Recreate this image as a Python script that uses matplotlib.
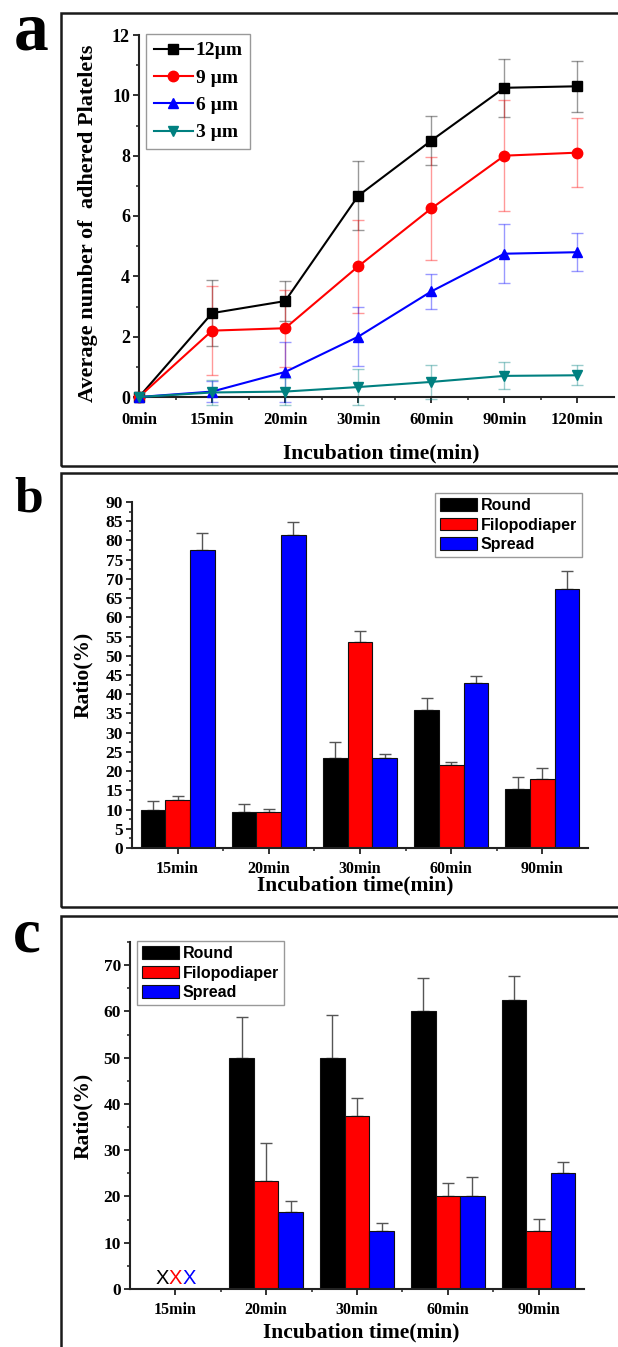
import matplotlib
matplotlib.use("Agg")
import matplotlib.pyplot as plt
from matplotlib.patches import Rectangle
from matplotlib.ticker import MultipleLocator, FixedLocator
import numpy as np

# ---------------- data ----------------
# panel a
times_a = ["0min", "15min", "20min", "30min", "60min", "90min", "120min"]
series_a = ["12\u00b5m", "9 \u00b5m", "6 \u00b5m", "3 \u00b5m"]
vals_12 = [0, 2.78, 3.18, 6.67, 8.50, 10.25, 10.30]
err_12 = [0, 1.10, 0.65, 1.15, 0.82, 0.97, 0.85]
vals_9 = [0, 2.20, 2.28, 4.33, 6.25, 8.00, 8.10]
err_9 = [0, 1.48, 1.27, 1.55, 1.72, 1.85, 1.15]
vals_6 = [0, 0.18, 0.83, 2.00, 3.50, 4.75, 4.80]
err_6 = [0, 0.35, 1.00, 0.98, 0.58, 0.97, 0.63]
vals_3 = [0, 0.15, 0.18, 0.33, 0.50, 0.70, 0.72]
err_3 = [0, 0.42, 0.45, 0.60, 0.57, 0.45, 0.33]

# panel b
times_b = ["15min", "20min", "30min", "60min", "90min"]
shapes = ["Round", "Filopodiaper", "Spread"]
b_round = [10.0, 9.3, 23.5, 35.8, 15.3]
b_round_err = [2.3, 2.1, 4.2, 3.2, 3.2]
b_filo = [12.5, 9.3, 53.5, 21.5, 18.0]
b_filo_err = [1.0, 0.9, 3.0, 1.0, 2.8]
b_spread = [77.5, 81.5, 23.5, 43.0, 67.5]
b_spread_err = [4.5, 3.2, 1.0, 1.7, 4.5]

# panel c (15min: no data, marked with X)
times_c = ["15min", "20min", "30min", "60min", "90min"]
c_round = [0, 50.0, 50.0, 60.0, 62.5]
c_round_err = [0, 8.7, 9.3, 7.2, 5.2]
c_filo = [0, 23.3, 37.5, 20.0, 12.5]
c_filo_err = [0, 8.3, 3.8, 3.0, 2.7]
c_spread = [0, 16.7, 12.5, 20.0, 25.0]
c_spread_err = [0, 2.3, 1.7, 4.1, 2.5]

# ---------------- layout ----------------
W, H = 618, 1347
fig = plt.figure(figsize=(W / 100, H / 100), dpi=100)
fig.patch.set_facecolor("white")

SERIF = "Liberation Serif"
SANS = "Liberation Sans"


def rect(l, r, top, bottom):
    return [l / W, 1 - bottom / H, (r - l) / W, (bottom - top) / H]


def frame(top, bottom, left=61, right=660):
    fig.patches.append(Rectangle((left / W, 1 - bottom / H), (right - left) / W,
                                 (bottom - top) / H, transform=fig.transFigure,
                                 fill=False, edgecolor="#1a1a1a", linewidth=1.8,
                                 clip_on=False))


frame(13, 466)
frame(473, 907)
frame(916, 1360)

fig.text(14 / W, 1 - 50 / H, "a", fontfamily=SERIF, fontweight="bold",
         fontsize=50, ha="left", va="baseline")
fig.text(14 / W, 1 - 511 / H, "b", fontfamily=SERIF, fontweight="bold",
         fontsize=37, ha="left", va="baseline")
fig.text(13 / W, 1 - 952 / H, "c", fontfamily=SERIF, fontweight="bold",
         fontsize=45, ha="left", va="baseline")


def style_axes(ax, xsize, ysize):
    for s in ["top", "right"]:
        ax.spines[s].set_visible(False)
    for s in ["left", "bottom"]:
        ax.spines[s].set_linewidth(1.5)
        ax.spines[s].set_color("#222222")
    ax.tick_params(which="major", direction="out", length=4.5, width=1.3,
                   colors="#222222", labelcolor="black", pad=2)
    ax.tick_params(which="minor", direction="out", length=2.5, width=1.1,
                   colors="#222222")
    ax.tick_params(axis="x", labelsize=xsize)
    ax.tick_params(axis="y", labelsize=ysize)
    for lab in ax.get_xticklabels() + ax.get_yticklabels():
        lab.set_fontfamily(SERIF)
        lab.set_fontweight("bold")


def center_labels(ax, xcoord, ycoord):
    ax.xaxis.label.set_va("center")
    ax.yaxis.label.set_va("center")
    ax.xaxis.set_label_coords(*xcoord)
    ax.yaxis.set_label_coords(*ycoord)


# ---------------- panel a ----------------
axa = fig.add_axes(rect(139, 614, 35, 397))
xa = np.arange(len(times_a))
cols_a = ["#000000", "#ff0000", "#0000ff", "#008080"]
marks_a = ["s", "o", "^", "v"]
data_a = [(vals_12, err_12), (vals_9, err_9), (vals_6, err_6), (vals_3, err_3)]
for (v, e), c, m, lab in zip(data_a, cols_a, marks_a, series_a):
    axa.errorbar(xa, v, yerr=e, fmt="none", ecolor=c, alpha=0.4,
                 elinewidth=1.0, capsize=4, capthick=1.0, clip_on=False)
    axa.plot(xa, v, color=c, marker=m, markersize=7.5, linewidth=1.5,
             label=lab, clip_on=False, zorder=3)
axa.set_xlim(0, 6.5)
axa.set_ylim(0, 12)
axa.xaxis.set_major_locator(FixedLocator(xa))
axa.xaxis.set_minor_locator(FixedLocator(xa[:-1] + 0.5))
axa.set_xticklabels(times_a)
axa.yaxis.set_major_locator(MultipleLocator(2))
axa.yaxis.set_minor_locator(MultipleLocator(1))
style_axes(axa, 12, 13)
axa.tick_params(axis="x", pad=6)
axa.set_xlabel("Incubation time(min)", fontfamily=SERIF, fontweight="bold", fontsize=15.5)
axa.set_ylabel("Average number of  adhered Platelets", fontfamily=SERIF,
               fontweight="bold", fontsize=16)
center_labels(axa, (0.51, -0.155), (-0.108, 0.48))
lega = axa.legend(loc="upper left", bbox_to_anchor=(146 / W, 1 - 34 / H),
                  bbox_transform=fig.transFigure, borderaxespad=0,
                  prop={"family": SERIF, "weight": "bold", "size": 14},
                  handlelength=2.0, handletextpad=0.15, labelspacing=0.5,
                  borderpad=0.4, fancybox=False, framealpha=1, edgecolor="#999999")
lega.get_frame().set_linewidth(1.0)


# ---------------- bar panels ----------------
bar_cols = ["#000000", "#ff0000", "#0000ff"]
BW = 0.27


def bar_panel(ax, cats, series, errs, ymax, major, minor, leg_loc, leg_anchor):
    x = np.arange(1, len(cats) + 1)
    for i, (v, e, c, lab) in enumerate(zip(series, errs, bar_cols, shapes)):
        pos = x + (i - 1) * BW
        ax.bar(pos, v, width=BW, color=c, edgecolor="#111111", linewidth=0.8,
               label=lab, zorder=2)
        mask = np.array(e) > 0
        ax.errorbar(pos[mask], np.array(v)[mask],
                    yerr=[np.zeros(mask.sum()), np.array(e)[mask]],
                    fmt="none", ecolor="#555555", elinewidth=1.0, capsize=4,
                    capthick=1.0, zorder=1)
    ax.set_xlim(0.5, 5.5)
    ax.set_ylim(0, ymax)
    ax.xaxis.set_major_locator(FixedLocator(x))
    ax.xaxis.set_minor_locator(FixedLocator(x[:-1] + 0.5))
    ax.set_xticklabels(cats)
    ax.yaxis.set_major_locator(MultipleLocator(major))
    ax.yaxis.set_minor_locator(MultipleLocator(minor))
    style_axes(ax, 11.5, 12.5)
    ax.tick_params(axis="x", pad=5)
    ax.set_xlabel("Incubation time(min)", fontfamily=SERIF, fontweight="bold",
                  fontsize=15.5)
    ax.set_ylabel("Ratio(%)", fontfamily=SERIF, fontweight="bold", fontsize=15.5)
    leg = ax.legend(loc=leg_loc, bbox_to_anchor=leg_anchor,
                    bbox_transform=fig.transFigure, borderaxespad=0,
                    prop={"family": SANS, "weight": "bold", "size": 11.5},
                    handlelength=2.3, handleheight=0.85, handletextpad=0.25,
                    labelspacing=0.3, borderpad=0.3, fancybox=False,
                    framealpha=1, edgecolor="#999999")
    leg.get_frame().set_linewidth(1.0)
    return x


axb = fig.add_axes(rect(132, 588, 502, 848))
bar_panel(axb, times_b, [b_round, b_filo, b_spread],
          [b_round_err, b_filo_err, b_spread_err], 90, 5, 2.5,
          "upper right", (582 / W, 1 - 493 / H))
center_labels(axb, (0.49, -0.108), (-0.107, 0.5))

axc = fig.add_axes(rect(130, 584, 942, 1289))
xc = bar_panel(axc, times_c, [c_round, c_filo, c_spread],
               [c_round_err, c_filo_err, c_spread_err], 75, 10, 5,
               "upper left", (137 / W, 1 - 941 / H))
center_labels(axc, (0.51, -0.124), (-0.104, 0.5))
for off, c in zip([-0.15, 0.0, 0.15], bar_cols):
    axc.text(xc[0] + off, 0.3, "X", color=c, fontfamily=SANS, fontsize=14.5,
             ha="center", va="bottom")

fig.savefig("out.png", dpi=100, facecolor="white")
